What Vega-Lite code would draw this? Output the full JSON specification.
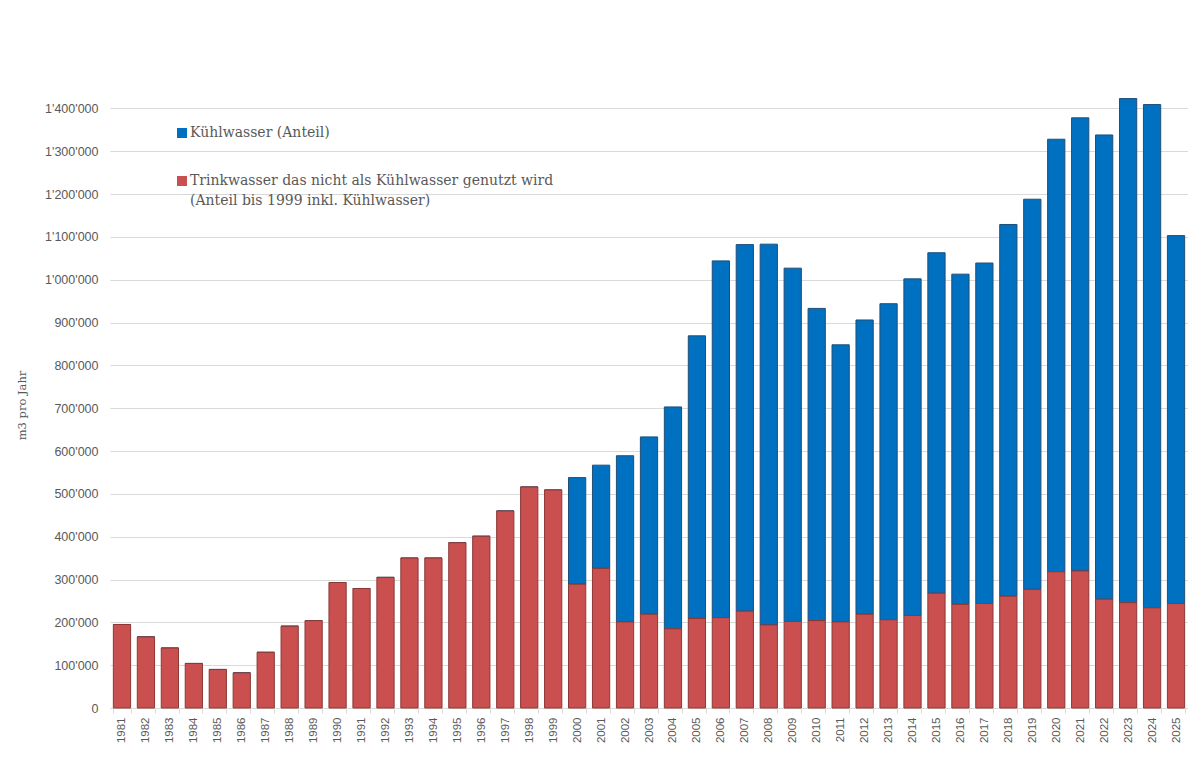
{
  "$schema": "https://vega.github.io/schema/vega-lite/v6.json",
  "width": 1078,
  "height": 621,
  "autosize": {"type": "none"},
  "padding": {"left": 110, "top": 87, "right": 0, "bottom": 55},
  "background": "white",
  "config": {"view": {"stroke": null}, "font": "Liberation Sans"},
  "data": {"values": [
    {"Jahr": "1981", "T": 195000, "K": 0},
    {"Jahr": "1982", "T": 166000, "K": 0},
    {"Jahr": "1983", "T": 140000, "K": 0},
    {"Jahr": "1984", "T": 104000, "K": 0},
    {"Jahr": "1985", "T": 90000, "K": 0},
    {"Jahr": "1986", "T": 82000, "K": 0},
    {"Jahr": "1987", "T": 130000, "K": 0},
    {"Jahr": "1988", "T": 191000, "K": 0},
    {"Jahr": "1989", "T": 204000, "K": 0},
    {"Jahr": "1990", "T": 293000, "K": 0},
    {"Jahr": "1991", "T": 279000, "K": 0},
    {"Jahr": "1992", "T": 305000, "K": 0},
    {"Jahr": "1993", "T": 350000, "K": 0},
    {"Jahr": "1994", "T": 350000, "K": 0},
    {"Jahr": "1995", "T": 386000, "K": 0},
    {"Jahr": "1996", "T": 401000, "K": 0},
    {"Jahr": "1997", "T": 460000, "K": 0},
    {"Jahr": "1998", "T": 516000, "K": 0},
    {"Jahr": "1999", "T": 509000, "K": 0},
    {"Jahr": "2000", "T": 289000, "K": 249000},
    {"Jahr": "2001", "T": 326000, "K": 241000},
    {"Jahr": "2002", "T": 201000, "K": 388000},
    {"Jahr": "2003", "T": 219000, "K": 414000},
    {"Jahr": "2004", "T": 185000, "K": 518000},
    {"Jahr": "2005", "T": 209000, "K": 660000},
    {"Jahr": "2006", "T": 211000, "K": 833000},
    {"Jahr": "2007", "T": 226000, "K": 856000},
    {"Jahr": "2008", "T": 194000, "K": 889000},
    {"Jahr": "2009", "T": 202000, "K": 825000},
    {"Jahr": "2010", "T": 204000, "K": 729000},
    {"Jahr": "2011", "T": 201000, "K": 647000},
    {"Jahr": "2012", "T": 219000, "K": 687000},
    {"Jahr": "2013", "T": 206000, "K": 738000},
    {"Jahr": "2014", "T": 216000, "K": 786000},
    {"Jahr": "2015", "T": 268000, "K": 795000},
    {"Jahr": "2016", "T": 242000, "K": 771000},
    {"Jahr": "2017", "T": 244000, "K": 795000},
    {"Jahr": "2018", "T": 261000, "K": 868000},
    {"Jahr": "2019", "T": 277000, "K": 911000},
    {"Jahr": "2020", "T": 318000, "K": 1010000},
    {"Jahr": "2021", "T": 320000, "K": 1058000},
    {"Jahr": "2022", "T": 254000, "K": 1084000},
    {"Jahr": "2023", "T": 246000, "K": 1177000},
    {"Jahr": "2024", "T": 234000, "K": 1175000},
    {"Jahr": "2025", "T": 244000, "K": 859000}
  ]},
  "transform": [{"fold": ["K", "T"], "as": ["serie", "m3"]}],
  "mark": {"type": "bar", "strokeWidth": 1},
  "encoding": {
    "x": {
      "field": "Jahr", "type": "ordinal",
      "scale": {"paddingInner": 0.28, "paddingOuter": 0.14},
      "axis": {
        "title": null, "labelAngle": -90, "labelFont": "Liberation Sans", "labelFontSize": 11.5,
        "labelColor": "#595959", "labelPadding": 4, "tickBand": "extent", "tickSize": 5,
        "tickColor": "#d9d9d9", "domainColor": "#d9d9d9", "grid": false
      }
    },
    "y": {
      "field": "m3", "type": "quantitative", "stack": "zero",
      "scale": {"domain": [0, 1450000], "nice": false},
      "axis": {
        "title": "m3 pro Jahr", "titleFont": "DejaVu Serif", "titleFontSize": 11.5,
        "titleFontWeight": "normal", "titleColor": "#595959",
        "titleX": -88, "titleY": 318, "titleAlign": "center", "titleBaseline": "middle",
        "values": [0, 100000, 200000, 300000, 400000, 500000, 600000, 700000, 800000, 900000, 1000000, 1100000, 1200000, 1300000, 1400000],
        "labelExpr": "replace(format(datum.value, ','), /,/g, \"'\")",
        "labelFont": "Liberation Sans", "labelFontSize": 12.5, "labelColor": "#595959",
        "labelPadding": 12, "domain": false, "ticks": false,
        "gridColor": "#d9d9d9", "gridWidth": 1
      }
    },
    "fill": {
      "field": "serie", "type": "nominal",
      "scale": {"domain": ["K", "T"], "range": ["#0070C0", "#C9504E"]},
      "legend": {
        "orient": "none", "legendX": 65, "legendY": 39, "title": null,
        "symbolType": "square", "symbolSize": 100, "symbolStrokeWidth": 0,
        "labelFont": "DejaVu Serif", "labelFontSize": 14, "labelColor": "#595959",
        "rowPadding": 34, "labelOffset": 1, "padding": 0, "labelLimit": 800,
        "labelExpr": "datum.value == 'K' ? 'Kühlwasser (Anteil)' : ['Trinkwasser das nicht als Kühlwasser genutzt wird', '(Anteil bis 1999 inkl. Kühlwasser)']",
        "encode": {"labels": {"update": {"lineHeight": {"value": 19.5}}}}
      }
    },
    "stroke": {
      "field": "serie", "type": "nominal",
      "scale": {"domain": ["K", "T"], "range": ["#1f4e79", "#8c3836"]},
      "legend": null
    },
    "order": {"field": "serie", "sort": "descending"}
  }
}
